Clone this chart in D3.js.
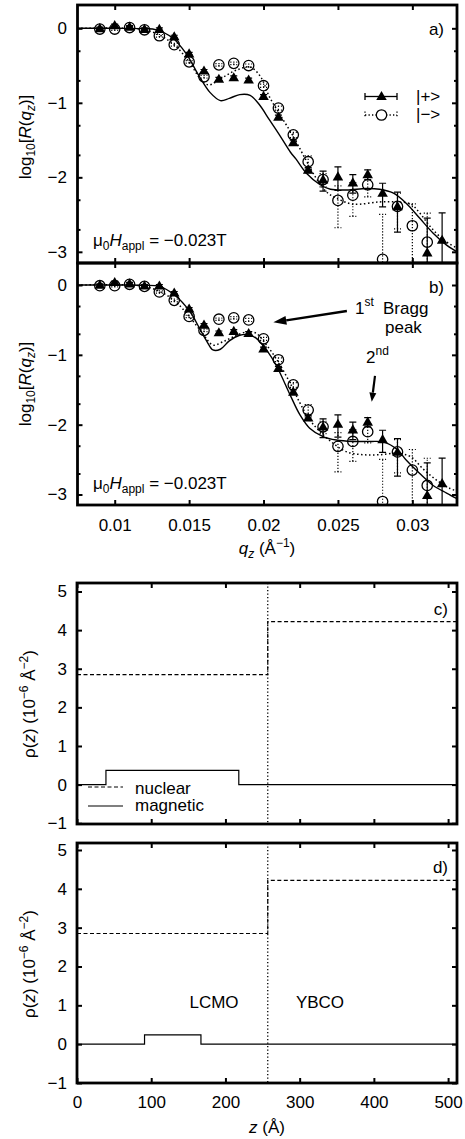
<!DOCTYPE html>
<html><head><meta charset="utf-8">
<script src="https://cdn.jsdelivr.net/npm/d3@7"></script>
<style>
body{margin:0;background:#fff;}
svg{display:block;font-family:"Liberation Sans",Arial,Helvetica,sans-serif;}
</style></head><body>
<svg id="chart" width="465" height="1139"></svg>
<script>
// ---------- data: reflectivity (log10 R) ----------
const qValues     = [0.009,0.010,0.011,0.012,0.013,0.014,0.015,0.016,0.017,0.018,0.019,0.020,0.021,0.022,0.023,0.024,0.025,0.026,0.027,0.028,0.029,0.030,0.031,0.032];
const plusValues  = [0.00,0.04,0.02,-0.01,-0.01,-0.11,-0.34,-0.57,-0.68,-0.66,-0.69,-0.91,-1.19,-1.53,-1.90,-2.03,-1.99,-2.07,-1.96,-2.21,-2.39,null,-3.01,-2.84];
const plusErr     = [0.04,0.04,0.04,0.04,0.04,0.04,0.04,0.04,0.05,0.05,0.05,0.05,0.06,0.07,0.08,0.30,0.35,0.28,0.15,0.35,0.55,null,1.9,1.3];
const minusValues = [-0.01,-0.01,0.01,-0.02,-0.10,-0.22,-0.45,-0.65,-0.49,-0.47,-0.50,-0.77,-1.07,-1.43,-1.79,-2.03,-2.31,-2.24,-2.10,-3.10,-2.39,-2.65,-2.87,null];
const minusErr    = [0.04,0.04,0.04,0.04,0.04,0.04,0.04,0.04,0.04,0.04,0.05,0.05,0.06,0.08,0.20,0.20,0.57,0.48,0.31,3.0,0.50,0.97,1.45,null];

// fit curves
const fitAPlusQ  = [0.0075,0.010,0.012,0.0128,0.0139,0.0148,0.0157,0.0164,0.0171,0.0177,0.0184,0.0191,0.0197,0.0204,0.0211,0.0218,0.0222,0.0229,0.0238,0.0245,0.0256,0.0269,0.0278,0.0287,0.0296,0.0305,0.0314,0.0323,0.033];
const fitAPlusV  = [0,0,-0.005,-0.02,-0.13,-0.34,-0.65,-0.86,-0.97,-0.94,-0.89,-0.90,-1.02,-1.23,-1.44,-1.66,-1.76,-1.95,-2.10,-2.16,-2.17,-2.15,-2.16,-2.21,-2.35,-2.55,-2.75,-2.91,-3.0];
const fitAMinusQ = [0.0075,0.011,0.012,0.013,0.014,0.015,0.0158,0.0163,0.0168,0.0175,0.0182,0.0191,0.0198,0.0204,0.0212,0.022,0.0228,0.0235,0.0242,0.0249,0.026,0.0278,0.029,0.0299,0.0305,0.0312,0.0321,0.033];
const fitAMinusV = [0,0,-0.02,-0.09,-0.22,-0.45,-0.69,-0.76,-0.72,-0.63,-0.56,-0.52,-0.65,-0.92,-1.19,-1.45,-1.75,-2.0,-2.19,-2.28,-2.36,-2.33,-2.33,-2.36,-2.48,-2.66,-2.84,-2.95];
const fitBPlusQ  = [0.0075,0.011,0.012,0.013,0.014,0.01505,0.0157,0.0162,0.0166,0.0171,0.0177,0.0184,0.019,0.0195,0.0202,0.0209,0.0218,0.02245,0.0231,0.024,0.0249,0.026,0.0272,0.0281,0.029,0.0296,0.0305,0.0314,0.0323,0.033];
const fitBPlusV  = [0,0,-0.005,-0.02,-0.14,-0.38,-0.62,-0.81,-0.93,-0.92,-0.80,-0.72,-0.71,-0.76,-0.93,-1.17,-1.58,-1.86,-2.05,-2.17,-2.22,-2.24,-2.24,-2.25,-2.36,-2.51,-2.70,-2.87,-2.98,-3.06];
const fitBMinusQ = [0.0075,0.011,0.012,0.013,0.014,0.015,0.0159,0.0166,0.0173,0.018,0.0189,0.0195,0.0202,0.0209,0.0218,0.02245,0.0231,0.0238,0.0247,0.0256,0.0267,0.0278,0.029,0.0299,0.0307,0.0316,0.0325,0.033];
const fitBMinusV = [0,0,-0.02,-0.09,-0.22,-0.45,-0.69,-0.86,-0.81,-0.74,-0.67,-0.69,-0.86,-1.07,-1.41,-1.69,-1.93,-2.10,-2.27,-2.39,-2.43,-2.43,-2.41,-2.46,-2.63,-2.79,-2.91,-2.95];

// ---------- data: depth profiles ----------
const nuclearZ   = [0,257,512];
const nuclearRho = [2.85,4.22,4.22];
const magCZ      = [0,39,218,512];
const magCRho    = [0,0.37,0,0];
const magDZ      = [0,91,167,512];
const magDRho    = [0,0.24,0,0];
const interfaceZ = 257;

// ticks
const qTicks    = [0.01,0.015,0.02,0.025,0.03];
const qTickLabels = ["0.01","0.015","0.02","0.025","0.03"];
const logTicks  = [0,-1,-2,-3];
const logMinor  = [-0.301,-0.699,-1.301,-1.699,-2.301,-2.699];
const zTicks    = [0,100,200,300,400,500];
const rhoTicks  = [-1,0,1,2,3,4,5];

// ---------- layout ----------
const svg = d3.select("#chart");
const FS = 17;
const L = 77.5, R = 457;
const xq = d3.scaleLinear().domain([0.0075,0.033]).range([L,R]);
const yA = d3.scaleLinear().domain([-3.15,0.313]).range([263,5]);
const yB = d3.scaleLinear().domain([-3.15,0.315]).range([505,263]);
const xz = d3.scaleLinear().domain([0,512]).range([77,457]);
const yC = d3.scaleLinear().domain([-1.02,5.22]).range([824,583]);
const yD = d3.scaleLinear().domain([-1,5.18]).range([1083,843]);

const minus = s => String(s).replace("-","\u2212");

function axes(x, y, xt, xFmt, showX, yt, yMinor, yFmt, xPad, yPad){
  const [x0,x1] = x.range(); const [y1,y0] = y.range();
  const style = g => {
    g.select(".domain").remove();
    g.selectAll(".tick line").attr("stroke","#000").attr("stroke-width",2);
    g.selectAll("text").attr("font-size",FS).attr("font-family","Liberation Sans, Arial, sans-serif").attr("fill","#000");
  };
  svg.append("g").attr("transform",`translate(0,${y1})`)
    .call(d3.axisBottom(x).tickValues(xt).tickSize(-5).tickPadding(xPad).tickFormat(showX?xFmt:()=>""))
    .call(style);
  svg.append("g").attr("transform",`translate(0,${y0})`)
    .call(d3.axisTop(x).tickValues(xt).tickSize(-5).tickFormat(()=>"")).call(style);
  svg.append("g").attr("transform",`translate(${x0},0)`)
    .call(d3.axisLeft(y).tickValues(yt).tickSize(-5).tickPadding(yPad).tickFormat(yFmt)).call(style);
  svg.append("g").attr("transform",`translate(${x1},0)`)
    .call(d3.axisRight(y).tickValues(yt).tickSize(-5).tickFormat(()=>"")).call(style);
  if (yMinor){
    svg.append("g").attr("transform",`translate(${x0},0)`)
      .call(d3.axisLeft(y).tickValues(yMinor).tickSize(-3).tickFormat(()=>"")).call(style);
    svg.append("g").attr("transform",`translate(${x1},0)`)
      .call(d3.axisRight(y).tickValues(yMinor).tickSize(-3).tickFormat(()=>"")).call(style);
  }
}
function frame(x,y){
  const [x0,x1]=x.range(); const [y1,y0]=y.range();
  svg.append("rect").attr("x",x0).attr("y",y0).attr("width",x1-x0).attr("height",y1-y0)
    .attr("fill","none").attr("stroke","#000").attr("stroke-width",2.8);
}
let clipN=0;
function clipFor(x,y){
  const [x0,x1]=x.range(); const [y1,y0]=y.range();
  const id="clip"+(clipN++);
  svg.append("clipPath").attr("id",id).append("rect").attr("x",x0).attr("y",y0).attr("width",x1-x0).attr("height",y1-y0);
  return svg.append("g").attr("clip-path",`url(#${id})`);
}

function reflPanel(y, fitPQ, fitPV, fitMQ, fitMV){
  const g = clipFor(xq,y);
  const line = d3.line().curve(d3.curveCatmullRom.alpha(0.5)).x(d=>xq(d[0])).y(d=>y(d[1]));
  g.append("path").datum(d3.zip(fitPQ,fitPV)).attr("d",line).attr("fill","none").attr("stroke","#000").attr("stroke-width",1.4);
  g.append("path").datum(d3.zip(fitMQ,fitMV)).attr("d",line).attr("fill","none").attr("stroke","#000").attr("stroke-width",1.5).attr("stroke-dasharray","1.5,2.5");
  const lowOf = (v,e)=> e>=1 ? y.domain()[0]-1 : v+Math.log10(1-e);
  const highOf = (v,e)=> v+Math.log10(1+e);
  const pts = (vals,errs)=> qValues.map((q,i)=>({q,v:vals[i],e:errs[i]})).filter(d=>d.v!==null);
  const mPts = pts(minusValues,minusErr), pPts = pts(plusValues,plusErr);
  function bars(data, dash){
    const gb = g.append("g").attr("stroke","#000").attr("stroke-width",1.2).attr("stroke-dasharray",dash);
    data.forEach(d=>{
      const X=xq(d.q), yl=y(lowOf(d.v,d.e)), yh=y(highOf(d.v,d.e));
      gb.append("line").attr("x1",X).attr("x2",X).attr("y1",yl).attr("y2",yh);
      gb.append("line").attr("x1",X-3.5).attr("x2",X+3.5).attr("y1",yh).attr("y2",yh);
      gb.append("line").attr("x1",X-3.5).attr("x2",X+3.5).attr("y1",yl).attr("y2",yl);
    });
  }
  bars(mPts,"1.2,1.8");
  bars(pPts,null);
  g.append("g").selectAll("path").data(pPts).join("path")
    .attr("d",d3.symbol(d3.symbolTriangle,48)).attr("transform",d=>`translate(${xq(d.q)},${y(d.v)+0.8})`).attr("fill","#000");
  g.append("g").selectAll("circle").data(mPts).join("circle")
    .attr("cx",d=>xq(d.q)).attr("cy",d=>y(d.v)).attr("r",5.2).attr("fill","none").attr("stroke","#000").attr("stroke-width",1.3);
}

function rhoPanel(y, mz, mr){
  const g = clipFor(xz,y);
  const line = d3.line().curve(d3.curveStepAfter).x(d=>xz(d[0])).y(d=>y(d[1]));
  g.append("line").attr("x1",xz(interfaceZ)).attr("x2",xz(interfaceZ)).attr("y1",y.range()[1]).attr("y2",y.range()[0])
    .attr("stroke","#000").attr("stroke-width",1.3).attr("stroke-dasharray","1.3,2.2");
  g.append("path").datum(d3.zip(nuclearZ,nuclearRho)).attr("d",line).attr("fill","none").attr("stroke","#000").attr("stroke-width",1.2).attr("stroke-dasharray","4,2.5");
  g.append("path").datum(d3.zip(mz,mr)).attr("d",line).attr("fill","none").attr("stroke","#000").attr("stroke-width",1.2);
}

// draw panels
reflPanel(yA, fitAPlusQ, fitAPlusV, fitAMinusQ, fitAMinusV);
reflPanel(yB, fitBPlusQ, fitBPlusV, fitBMinusQ, fitBMinusV);
rhoPanel(yC, magCZ, magCRho);
rhoPanel(yD, magDZ, magDRho);

const qFmt = d => qTickLabels[qTicks.indexOf(d)];
axes(xq,yA,qTicks,qFmt,false,logTicks,logMinor,d=>minus(d),14,10.5);
axes(xq,yB,qTicks,qFmt,true,logTicks,logMinor,d=>minus(d),14,10.5);
axes(xz,yC,zTicks,d=>d,false,rhoTicks,null,d=>minus(d),13,10);
axes(xz,yD,zTicks,d=>d,true,rhoTicks,null,d=>minus(d),13,10);
frame(xq,yA); frame(xq,yB); frame(xz,yC); frame(xz,yD);

// ---------- texts ----------
function txt(x,y,anchor){ return svg.append("text").attr("x",x).attr("y",y).attr("font-size",FS).attr("text-anchor",anchor||"start").attr("fill","#000"); }
txt(444,35,"end").text("a)");
txt(444,293,"end").text("b)");
txt(448,615,"end").text("c)");
txt(448,873,"end").text("d)");

function muH(y){
  const t = txt(93,y);
  t.append("tspan").text("\u03bc");
  t.append("tspan").attr("font-size",12).attr("dy",4).text("0");
  t.append("tspan").attr("font-style","italic").attr("dy",-4).text("H");
  t.append("tspan").attr("font-size",12).attr("dy",4).text("appl");
  t.append("tspan").attr("dy",-4).text(" = \u22120.023T");
}
muH(246); muH(489);

// y labels
function logLabel(cy){
  const t = svg.append("text").attr("transform",`translate(31,${cy}) rotate(-90)`).attr("text-anchor","middle").attr("font-size",FS);
  t.append("tspan").text("log");
  t.append("tspan").attr("font-size",12).attr("dy",4).text("10");
  t.append("tspan").attr("dy",-4).text("[");
  t.append("tspan").attr("font-style","italic").text("R");
  t.append("tspan").text("(");
  t.append("tspan").attr("font-style","italic").text("q");
  t.append("tspan").attr("font-style","italic").attr("font-size",12).attr("dy",4).text("z");
  t.append("tspan").attr("dy",-4).text(")]");
}
logLabel(137); logLabel(384);
function rhoLabel(cy){
  const t = svg.append("text").attr("transform",`translate(35,${cy}) rotate(-90)`).attr("text-anchor","middle").attr("font-size",FS);
  t.append("tspan").text("\u03c1(");
  t.append("tspan").attr("font-style","italic").text("z");
  t.append("tspan").text(") (10");
  t.append("tspan").attr("font-size",12).attr("dy",-7).text("\u22126");
  t.append("tspan").attr("dy",7).text(" \u00c5");
  t.append("tspan").attr("font-size",12).attr("dy",-7).text("\u22122");
  t.append("tspan").attr("dy",7).text(")");
}
rhoLabel(704); rhoLabel(964);

// x titles
{
  const t = txt(267,554,"middle");
  t.append("tspan").attr("font-style","italic").text("q");
  t.append("tspan").attr("font-style","italic").attr("font-size",12).attr("dy",4).text("z");
  t.append("tspan").attr("dy",-4).text(" (\u00c5");
  t.append("tspan").attr("font-size",12).attr("dy",-7).text("\u22121");
  t.append("tspan").attr("dy",7).text(")");
}
{
  const t = txt(267,1133,"middle");
  t.append("tspan").attr("font-style","italic").text("z");
  t.append("tspan").text(" (\u00c5)");
}

// legend panel a
{
  const gl = svg.append("g").attr("stroke","#000").attr("stroke-width",1.3);
  gl.append("line").attr("x1",365).attr("x2",397).attr("y1",96.5).attr("y2",96.5);
  gl.append("line").attr("x1",365).attr("x2",365).attr("y1",93).attr("y2",100);
  gl.append("line").attr("x1",397).attr("x2",397).attr("y1",93).attr("y2",100);
  const gd = svg.append("g").attr("stroke","#000").attr("stroke-width",1.3).attr("stroke-dasharray","1.3,2.2");
  gd.append("line").attr("x1",365).attr("x2",397).attr("y1",115).attr("y2",115);
  gd.append("line").attr("x1",365).attr("x2",365).attr("y1",111.5).attr("y2",118.5);
  gd.append("line").attr("x1",397).attr("x2",397).attr("y1",111.5).attr("y2",118.5);
  svg.append("path").attr("d",d3.symbol(d3.symbolTriangle,48)).attr("transform","translate(381.5,97)").attr("fill","#000");
  svg.append("circle").attr("cx",381.5).attr("cy",115).attr("r",5.2).attr("fill","#fff").attr("stroke","#000").attr("stroke-width",1.3);
  txt(416,101.5).text("|+>");
  txt(416,120).text("|\u2212>");
}

// annotations panel b
function arrow(q0,v0,q1,v1,len,hw,sw){
  const x0=xq(q0),y0=yB(v0),x1=xq(q1),y1=yB(v1);
  const dx=x1-x0, dy=y1-y0, d=Math.hypot(dx,dy), ux=dx/d, uy=dy/d;
  const bx=x1-ux*len, by=y1-uy*len;
  svg.append("line").attr("x1",x0).attr("y1",y0).attr("x2",bx).attr("y2",by).attr("stroke","#000").attr("stroke-width",sw);
  svg.append("path").attr("d",`M${x1},${y1}L${bx-uy*hw},${by+ux*hw}L${bx+uy*hw},${by-ux*hw}Z`).attr("fill","#000");
}
arrow(0.0256,-0.373,0.02066,-0.534,13,4.5,2.4);
arrow(0.02749,-1.30,0.02727,-1.67,9,3.5,2.2);
{
  const t = txt(355,314);
  t.append("tspan").text("1");
  t.append("tspan").attr("font-size",12).attr("dy",-8).text("st");
  t.append("tspan").attr("dy",8).attr("x",383).text("Bragg");
  txt(385,333).text("peak");
  const t2 = txt(366,363);
  t2.append("tspan").text("2");
  t2.append("tspan").attr("font-size",12).attr("dy",-8).text("nd");
}

// legend panel c
svg.append("line").attr("x1",88).attr("x2",123).attr("y1",787).attr("y2",787).attr("stroke","#000").attr("stroke-width",1.2).attr("stroke-dasharray","4,2.5");
svg.append("line").attr("x1",88).attr("x2",123).attr("y1",806).attr("y2",806).attr("stroke","#000").attr("stroke-width",1.2);
txt(135,794).text("nuclear");
txt(135,811).text("magnetic");

// panel d labels
txt(214,1008,"middle").text("LCMO");
txt(320,1008,"middle").text("YBCO");
</script>
</body></html>
